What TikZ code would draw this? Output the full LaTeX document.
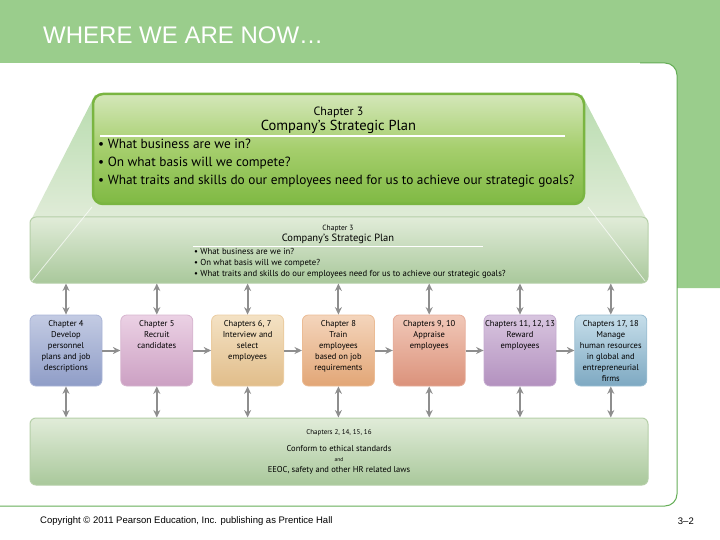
\documentclass[tikz,border=0pt]{standalone}
\usepackage{xcolor}
\usepackage{fontspec}
\usepackage{tikz}
\usetikzlibrary{arrows.meta}
\setmainfont{PT Sans}
\newfontfamily\slidefont{Liberation Sans}

\definecolor{bandgreen}{HTML}{9ACD8C}
\definecolor{panelline}{HTML}{66AE58}
\definecolor{arrowgray}{HTML}{8E8E8E}
\definecolor{bandtop}{HTML}{E1ECD9}
\definecolor{bandbot}{HTML}{A9C89B}
\definecolor{bandedge}{HTML}{B5CFA8}
\definecolor{plantop}{HTML}{D4E7B9}
\definecolor{planmid}{HTML}{A5CE6C}
\definecolor{planbot}{HTML}{7FB943}
\definecolor{planedge}{HTML}{7AB541}
% chapter box colours: top, bottom, edge
\definecolor{blueT}{HTML}{C3CBE3}   \definecolor{blueB}{HTML}{8F9DC7}   \definecolor{blueE}{HTML}{A9B4D6}
\definecolor{pinkT}{HTML}{EBD1E4}   \definecolor{pinkB}{HTML}{CCA0C3}   \definecolor{pinkE}{HTML}{D7B5CF}
\definecolor{tanT}{HTML}{F4E2C4}    \definecolor{tanB}{HTML}{E1BD8A}    \definecolor{tanE}{HTML}{EBCDA2}
\definecolor{orangeT}{HTML}{F4D5BC} \definecolor{orangeB}{HTML}{E2A676} \definecolor{orangeE}{HTML}{EBBC95}
\definecolor{salmonT}{HTML}{F1C8B8} \definecolor{salmonB}{HTML}{DB927B} \definecolor{salmonE}{HTML}{E6AE9B}
\definecolor{purpleT}{HTML}{D8C5DF} \definecolor{purpleB}{HTML}{B391BF} \definecolor{purpleE}{HTML}{C4AACF}
\definecolor{tealT}{HTML}{C6DEEA}   \definecolor{tealB}{HTML}{7EA9C2}   \definecolor{tealE}{HTML}{9BBED2}

\newcommand{\boxtext}[1]{\parbox[c][66pt][t]{70pt}{\vspace*{2.5pt}\centering #1}}

\begin{document}
\begin{tikzpicture}[x=1pt, y=-1pt, >={Stealth[length=7.5pt,width=7pt]},
    node distance=90.8pt,
    chapbox/.style={rounded corners=6pt, line width=0.8pt, minimum width=72pt,
        minimum height=71pt, inner sep=1pt, font=\fontsize{8.5}{11}\selectfont},
    band/.style={draw=bandedge, rounded corners=6pt, line width=1pt,
        top color=bandtop, bottom color=bandbot, minimum width=618pt},
    link/.style={->, draw=arrowgray, line width=2pt},
    dbl/.style={<->, draw=arrowgray, line width=2pt}]
    \useasboundingbox (0,0) rectangle (720,540);

    % Slide frame
    \fill[bandgreen] (0,0) -- (720,0) -- (720,288) -- (677,288)
        [rounded corners=12pt]-- (677,63) [sharp corners]-- (0,63) -- cycle;
    \draw[panelline, line width=1pt, rounded corners=12pt]
        (0,506) -- (677,506) -- (677,63) -- (640,63);
    \node (title) [anchor=west, text=white, inner sep=0pt,
        font=\slidefont\fontsize{24}{26}\selectfont] at (43,35) {WHERE WE ARE NOW…};

    % Strategic plan and its projection
    \shade[top color=bandgreen!70!white, bottom color=bandtop]
        (95,95) -- (582,95) -- (648,222) -- (30,222) -- cycle;
    \node (planband) [band, minimum height=66pt] at (339,250) {};
    \draw[white, opacity=0.7, line width=0.8pt] (92,207) -- (32,281);
    \draw[white, opacity=0.7, line width=0.8pt] (588,207) -- (645,281);
    \node (plan) [draw=planedge, line width=2.5pt, rounded corners=10pt,
        top color=plantop, bottom color=planbot, middle color=planmid,
        minimum width=491pt, minimum height=110pt] at (338.5,149) {};
    \node (planhead) [align=center, inner sep=0pt, font=\fontsize{14.5}{15}\selectfont] at (338.5,120)
        {{\fontsize{12}{14}\selectfont Chapter 3}\\ Company’s Strategic Plan};
    \draw[white, line width=1.2pt] (100,136) -- (565,136);
    \node (planlist) [anchor=north west, align=left, inner sep=0pt,
        font=\fontsize{13.3}{18}\selectfont] at (98,139)
        {• What business are we in?\\
         • On what basis will we compete?\\
         • What traits and skills do our employees need for us to achieve our strategic goals?};
    \node (bandhead) [align=center, inner sep=0pt, font=\fontsize{10.5}{11}\selectfont] at (338,234)
        {{\fontsize{7.5}{10}\selectfont Chapter 3}\\ Company’s Strategic Plan};
    \draw[white, line width=0.6pt] (193,246.5) -- (483,246.5);
    \node (bandlist) [anchor=north west, align=left, inner sep=0pt,
        font=\fontsize{8.7}{11}\selectfont] at (194,248)
        {• What business are we in?\\
         • On what basis will we compete?\\
         • What traits and skills do our employees need for us to achieve our strategic goals?};

    % Chapters
    \node (plans) [chapbox, draw=blueE, top color=blueT, bottom color=blueB] at (66,350.5)
        {\boxtext{Chapter 4\\Develop\\personnel\\plans and job\\descriptions}};
    \node (recruit) [chapbox, right of=plans, draw=pinkE, top color=pinkT, bottom color=pinkB]
        {\boxtext{Chapter 5\\Recruit\\candidates}};
    \node (select) [chapbox, right of=recruit, draw=tanE, top color=tanT, bottom color=tanB]
        {\boxtext{Chapters 6, 7\\Interview and\\select\\employees}};
    \node (train) [chapbox, right of=select, draw=orangeE, top color=orangeT, bottom color=orangeB]
        {\boxtext{Chapter 8\\Train\\employees\\based on job\\requirements}};
    \node (appraise) [chapbox, right of=train, draw=salmonE, top color=salmonT, bottom color=salmonB]
        {\boxtext{Chapters 9, 10\\Appraise\\employees}};
    \node (reward) [chapbox, right of=appraise, draw=purpleE, top color=purpleT, bottom color=purpleB]
        {\boxtext{Chapters 11, 12, 13\\Reward\\employees}};
    \node (manage) [chapbox, right of=reward, draw=tealE, top color=tealT, bottom color=tealB]
        {\boxtext{Chapters 17, 18\\Manage\\human resources\\in global and\\entrepreneurial\\firms}};

    % Laws
    \node (laws) [band, minimum height=67pt, align=center, font=\fontsize{8.5}{10}\selectfont] at (339,451.5)
        {{\fontsize{7}{9}\selectfont Chapters 2, 14, 15, 16}\\[7pt]
         Conform to ethical standards\\[0pt]
         {\fontsize{5.5}{7}\selectfont and}\\[1pt]
         EEOC, safety and other HR related laws};

    % Edges
    \draw[link] (plans) -- (recruit);
    \draw[link] (recruit) -- (select);
    \draw[link] (select) -- (train);
    \draw[link] (train) -- (appraise);
    \draw[link] (appraise) -- (reward);
    \draw[link] (reward) -- (manage);
    \draw[dbl] (plans |- planband.south) -- (plans);
    \draw[dbl] (recruit |- planband.south) -- (recruit);
    \draw[dbl] (select |- planband.south) -- (select);
    \draw[dbl] (train |- planband.south) -- (train);
    \draw[dbl] (appraise |- planband.south) -- (appraise);
    \draw[dbl] (reward |- planband.south) -- (reward);
    \draw[dbl] (manage |- planband.south) -- (manage);
    \draw[dbl] (plans) -- (plans |- laws.north);
    \draw[dbl] (recruit) -- (recruit |- laws.north);
    \draw[dbl] (select) -- (select |- laws.north);
    \draw[dbl] (train) -- (train |- laws.north);
    \draw[dbl] (appraise) -- (appraise |- laws.north);
    \draw[dbl] (reward) -- (reward |- laws.north);
    \draw[dbl] (manage) -- (manage |- laws.north);

    % Footer
    \node (copyright) [anchor=west, inner sep=0pt, font=\slidefont\fontsize{9.5}{11}\selectfont] at (40,521)
        {Copyright © 2011 Pearson Education, Inc. publishing as Prentice Hall};
    \node (slideno) [anchor=east, inner sep=0pt, font=\slidefont\fontsize{9.5}{11}\selectfont] at (694,521)
        {3–2};
\end{tikzpicture}
\end{document}
